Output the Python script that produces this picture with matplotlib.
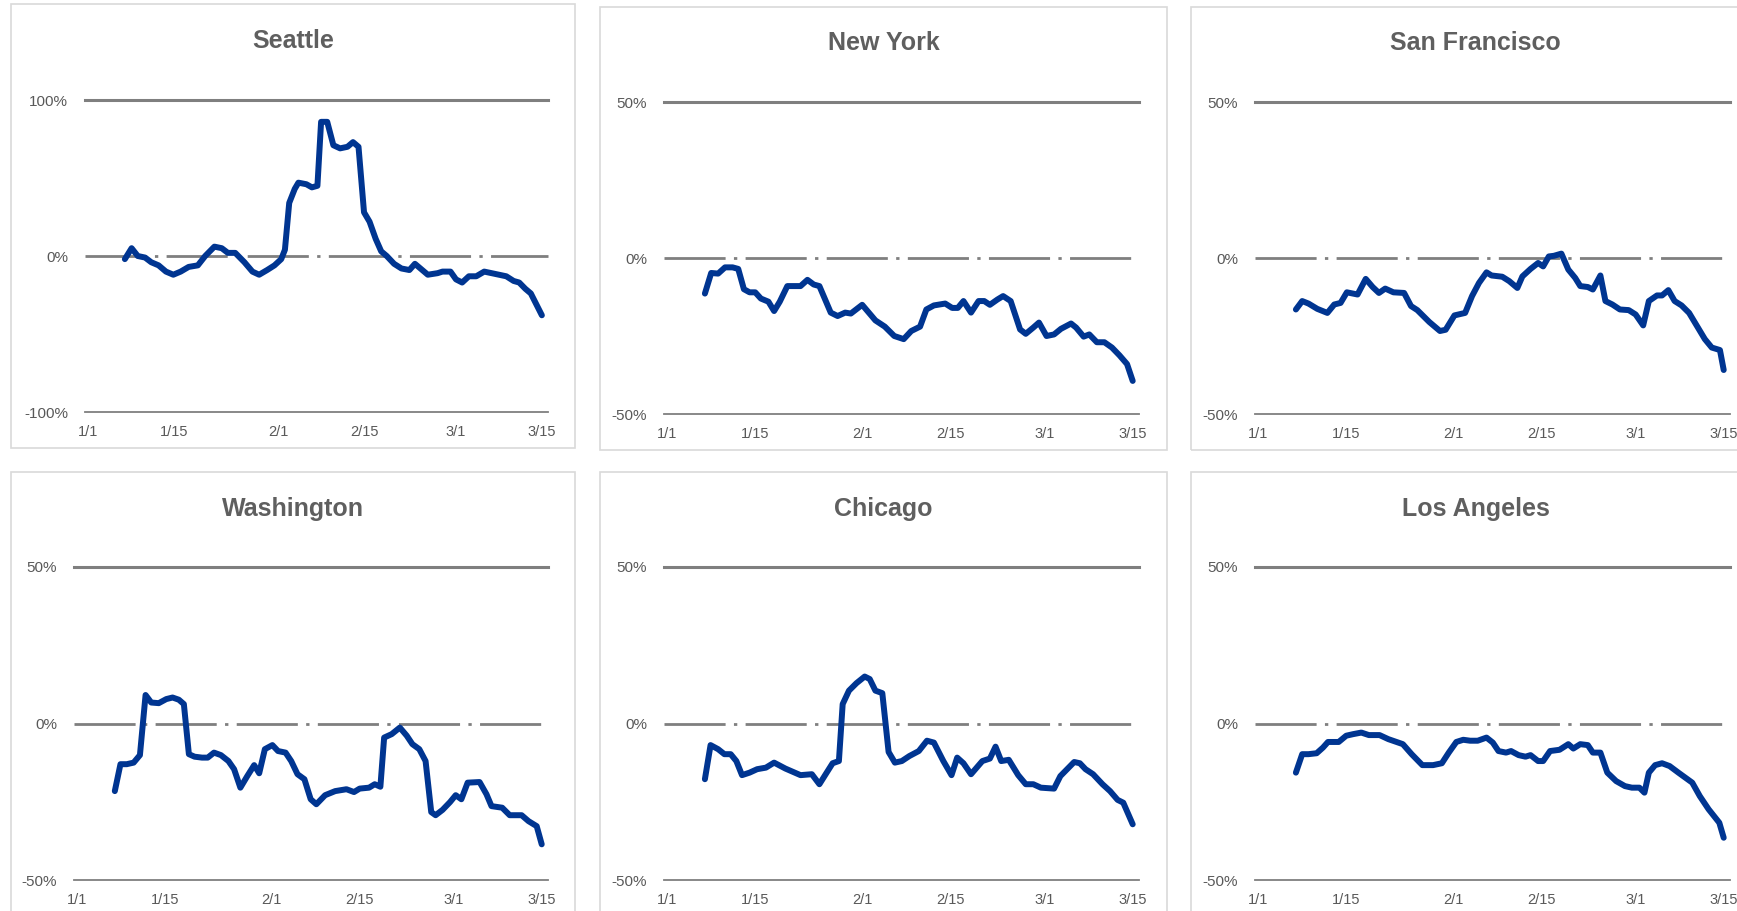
import matplotlib
matplotlib.use("Agg")
import matplotlib.pyplot as plt
from matplotlib.patches import Rectangle

plt.rcParams['font.family'] = ['Liberation Sans', 'DejaVu Sans']

# days since 1/1/2020 and % change
seattle_days = [6.0, 7.1, 8.1, 9.3, 10.3, 11.5, 12.7, 13.9, 15.1, 16.4, 17.9, 19.1, 20.6, 21.8,
                22.8, 24.0, 25.5, 26.8, 27.9, 29.2, 30.4, 31.5, 32.1, 32.8, 33.7, 34.3, 35.6,
                36.5, 37.4, 38.0, 39.0, 40.0, 41.1, 42.3, 43.2, 44.1, 45.0, 45.9, 46.9, 47.8,
                48.7, 49.9, 51.1, 52.4, 53.3, 54.2, 55.4, 57.0, 57.8, 59.1, 60.0, 61.0, 62.1,
                63.3, 64.6, 65.8, 67.0, 68.2, 69.4, 70.3, 71.3, 72.2, 73.1, 74.0]
seattle_vals = [-2, 5, 0, -1, -4, -6, -10, -12, -10, -7, -6, 0, 6, 5,
                2, 2, -4, -10, -12, -9, -6, -2, 4, 34, 43, 47, 46,
                44, 45, 86, 86, 71, 69, 70, 73, 70, 28, 22, 11, 3,
                0, -5, -8, -9, -5, -8, -12, -11, -10, -10, -15, -17, -13,
                -13, -10, -11, -12, -13, -16, -17, -21, -24, -31, -38]

newyork_days = [6.0, 7.0, 8.1, 9.2, 10.4, 11.3, 12.2, 13.1, 14.0, 14.9, 16.1, 17.0, 17.9, 19.1,
                20.6, 21.2, 22.3, 23.3, 24.2, 26.0, 27.1, 28.3, 29.2, 31.0, 33.1, 34.6, 36.1,
                37.6, 38.8, 40.2, 41.2, 42.4, 44.2, 45.3, 46.2, 47.1, 48.3, 49.5, 50.4, 51.3,
                52.5, 53.4, 54.6, 56.1, 57.0, 58.2, 59.1, 60.3, 61.5, 62.6, 64.2, 65.0, 66.2,
                67.1, 68.3, 69.5, 70.7, 71.9, 73.1, 74.0]
newyork_vals = [-11.4, -4.8, -5, -3, -3, -3.5, -10, -11, -11, -13, -14, -17, -14, -9,
                -9, -9, -7, -8.5, -9, -17.5, -18.6, -17.5, -17.8, -15, -20, -22, -25,
                -26, -23.4, -22, -16.5, -15.2, -14.6, -16, -16, -13.8, -17.5, -13.8, -13.8, -15,
                -13.3, -12.2, -13.8, -22.9, -24.3, -22.3, -20.7, -25, -24.5, -22.7, -21, -22.3, -25.2,
                -24.5, -27, -27, -28.7, -31.2, -34, -39.4]

sanfran_days = [6.0, 7.0, 8.0, 9.4, 11.0, 12.1, 13.1, 14.1, 15.8, 17.1, 18.2, 19.2, 20.2, 21.5,
                23.2, 24.3, 25.3, 27.2, 28.9, 29.8, 31.2, 32.9, 34.0, 35.1, 36.3, 37.1, 38.8,
                39.9, 41.2, 42.0, 43.3, 44.5, 45.3, 46.2, 47.0, 48.2, 49.3, 50.4, 51.2, 52.4,
                53.2, 54.4, 55.2, 56.3, 57.5, 58.9, 60.0, 61.2, 62.1, 63.4, 64.2, 65.2, 66.2,
                67.3, 68.5, 69.9, 71.0, 72.1, 73.4, 74.0]
sanfran_vals = [-16.5, -13.8, -14.6, -16.3, -17.6, -14.9, -14.4, -11, -11.7, -6.7, -9.3, -11.2, -9.8, -11,
                -11.2, -15.4, -16.7, -20.5, -23.4, -23, -18.4, -17.6, -12.2, -8, -4.6, -5.6, -6,
                -7.4, -9.6, -5.9, -3.5, -1.6, -2.7, 0.5, 0.7, 1.4, -3.7, -6.4, -9, -9.3,
                -10.1, -5.6, -13.8, -14.9, -16.5, -16.7, -18.1, -21.6, -13.8, -12, -12, -10.3, -13.8,
                -15.2, -17.6, -22.3, -26, -28.7, -29.5, -35.9]

washington_days = [6.0, 6.9, 7.9, 9.0, 10.0, 10.9, 11.8, 13.0, 14.2, 15.2, 16.2, 17.0, 17.8, 18.7,
                   19.9, 20.8, 21.8, 22.9, 24.1, 25.0, 26.0, 27.1, 28.2, 29.0, 29.9, 31.1, 32.0,
                   33.2, 34.1, 35.1, 36.2, 37.2, 38.1, 39.5, 41.1, 42.9, 44.1, 45.0, 46.5, 47.4,
                   48.3, 48.9, 50.1, 51.4, 52.5, 53.4, 54.5, 55.5, 56.4, 57.1, 58.2, 59.4, 60.3,
                   61.2, 62.2, 64.1, 65.2, 66.0, 67.7, 68.9, 70.8, 71.9, 73.2, 74.0]
washington_vals = [-21.6, -13, -13, -12.5, -10.1, 9.1, 6.7, 6.5, 7.8, 8.3, 7.6, 6.2, -9.8, -10.6,
                   -10.9, -10.9, -9.3, -10.1, -12, -14.6, -20.5, -16.8, -13.3, -15.9, -8.2, -6.9, -8.8,
                   -9.3, -12, -16.2, -17.8, -24.2, -25.8, -22.9, -21.6, -21, -21.9, -20.8, -20.5, -19.4,
                   -20.2, -4.5, -3.4, -1.3, -3.9, -6.6, -8.2, -12, -28.3, -29.3, -27.6, -25.1, -22.9,
                   -24.2, -18.9, -18.7, -22.6, -26.4, -26.9, -29.3, -29.3, -31.2, -32.8, -38.6]

chicago_days = [6.0, 6.9, 8.1, 9.1, 10.1, 11.0, 11.9, 13.1, 14.3, 15.7, 17.0, 18.8, 21.2, 23.0,
                24.2, 25.2, 26.3, 27.3, 27.9, 28.9, 30.1, 31.4, 32.2, 33.1, 34.2, 35.2, 36.2,
                37.3, 38.5, 40.0, 41.3, 42.4, 43.9, 45.2, 46.1, 47.1, 48.3, 50.1, 51.3, 52.2,
                53.1, 54.3, 55.8, 57.0, 58.2, 59.4, 61.5, 62.5, 64.7, 65.6, 66.5, 67.7, 69.2,
                70.4, 71.6, 72.5, 74.0]
chicago_vals = [-17.8, -6.9, -8.2, -9.8, -9.8, -12, -16.5, -15.7, -14.6, -14.1, -12.5, -14.4, -16.5, -16.2,
                -19.4, -16.2, -12.7, -12, 6.2, 10.5, 12.9, 15, 14.2, 10.5, 9.7, -9.1, -12.5,
                -12, -10.4, -8.8, -5.5, -6.1, -12, -16.5, -10.9, -12.7, -16.2, -12, -11.2, -7.4,
                -12, -11.6, -16.5, -19.4, -19.4, -20.5, -20.8, -16.8, -12.3, -12.7, -14.6, -16.2, -19.4,
                -21.6, -24.4, -25.3, -32.2]

losangeles_days = [6.0, 7.0, 8.0, 9.3, 10.3, 11.1, 12.8, 14.0, 15.1, 16.4, 17.6, 19.3, 20.7, 23.0,
                   24.4, 26.1, 27.8, 29.2, 30.3, 31.5, 32.6, 33.7, 34.9, 36.3, 37.3, 38.2, 39.4,
                   40.2, 41.4, 42.5, 43.3, 44.5, 45.3, 46.4, 47.9, 49.3, 50.1, 51.2, 52.4, 53.2,
                   54.4, 55.5, 56.9, 58.3, 59.4, 60.6, 61.4, 62.1, 63.1, 64.2, 65.4, 66.8, 69.0,
                   70.2, 71.6, 73.3, 74.0]
losangeles_vals = [-15.7, -9.8, -9.8, -9.5, -7.7, -5.9, -5.9, -3.9, -3.4, -2.9, -3.7, -3.7, -5, -6.6,
                   -9.8, -13.3, -13.3, -12.7, -9.3, -5.9, -5.2, -5.5, -5.5, -4.5, -6.1, -8.8, -9.3,
                   -8.8, -10.1, -10.6, -10.1, -12, -12, -8.8, -8.4, -6.6, -8, -6.6, -6.9, -9.3,
                   -9.3, -15.7, -18.4, -20, -20.5, -20.5, -22.1, -15.7, -13.3, -12.7, -13.6, -15.7, -18.9,
                   -23.2, -27.4, -31.7, -36.5]

tick_days = [0, 14, 31, 45, 60, 74]
tick_labels = ["1/1", "1/15", "2/1", "2/15", "3/1", "3/15"]

W, H = 1737, 911
fig = plt.figure(figsize=(W / 100, H / 100), dpi=100)

line_color = "#003591"
grid_color = "#7f7f7f"
text_color = "#595959"

# (title, days, values, y limit, plot box px, panel box px, title y px)
panels = [
    ("Seattle", seattle_days, seattle_vals, 100, (85, 548, 100, 412), (11, 575, 4, 448), 41),
    ("New York", newyork_days, newyork_vals, 50, (664, 1139, 102, 414), (600, 1167, 7, 450), 43),
    ("San Francisco", sanfran_days, sanfran_vals, 50, (1255, 1730, 102, 414), (1191, 1760, 7, 450), 43),
    ("Washington", washington_days, washington_vals, 50, (74, 548, 567, 880), (11, 575, 472, 930), 509),
    ("Chicago", chicago_days, chicago_vals, 50, (664, 1139, 567, 880), (600, 1167, 472, 930), 509),
    ("Los Angeles", losangeles_days, losangeles_vals, 50, (1255, 1730, 567, 880), (1191, 1760, 472, 930), 509),
]

for title, days, vals, lim, (x0, x1, y0, y1), (bx0, bx1, by0, by1), ty in panels:
    # light panel frame
    fig.patches.append(Rectangle((bx0 / W, 1 - by1 / H), (bx1 - bx0) / W, (by1 - by0) / H,
                                 transform=fig.transFigure, fill=False,
                                 edgecolor="#d9d9d9", linewidth=1.2))
    fig.text((bx0 + bx1) / 2 / W, 1 - ty / H, title, ha="center", va="center",
             fontsize=18, fontweight="bold", color="#5f5f5f")

    ax = fig.add_axes([x0 / W, 1 - y1 / H, (x1 - x0) / W, (y1 - y0) / H])
    ax.set_xlim(-0.5, 75)
    ax.set_ylim(-lim, lim)
    ax.axhline(lim, color=grid_color, linewidth=2.2, clip_on=False, zorder=1)
    ax.axhline(0, color=grid_color, linewidth=2.0, dashes=(22, 3, 1.2, 3), clip_on=False, zorder=1)
    ax.axhline(-lim, color=grid_color, linewidth=1.3, clip_on=False, zorder=1)
    ax.plot(days, vals, color=line_color, linewidth=4.3, solid_joinstyle="round",
            solid_capstyle="round", clip_on=False, zorder=3)

    for s in ax.spines.values():
        s.set_visible(False)
    ax.set_xticks(tick_days)
    ax.set_xticklabels(tick_labels)
    ax.set_yticks([-lim, 0, lim])
    ax.set_yticklabels([f"{-lim}%", "0%", f"{lim}%"])
    ax.tick_params(axis="x", length=0, pad=9, labelsize=10.5, labelcolor=text_color)
    ax.tick_params(axis="y", length=0, pad=12, labelsize=11, labelcolor=text_color)

fig.savefig("out.png", dpi=100, facecolor="white")
